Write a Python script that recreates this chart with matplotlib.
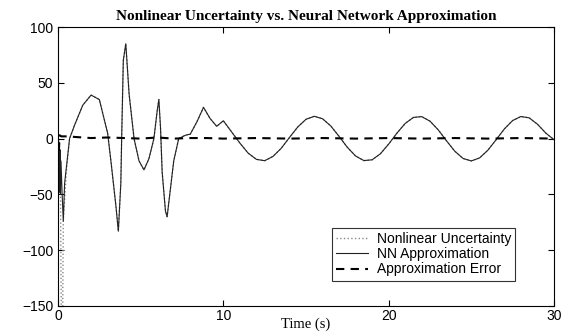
import numpy as np
import matplotlib
matplotlib.use('Agg')
import matplotlib.pyplot as plt

# nonlinear uncertainty (time in s)
t_unc = [0.0, 0.05, 0.1, 0.15, 0.2, 0.28, 0.32, 0.5, 0.7, 1.0, 1.5, 2.0, 2.5, 3.0,
         3.2, 3.5, 3.65, 3.8, 3.85, 3.95, 4.1, 4.3, 4.6, 4.9, 5.2, 5.5, 5.8, 6.0,
         6.1, 6.2, 6.3, 6.5, 6.6, 6.8, 7.0, 7.3, 7.7, 8.0, 8.4, 8.8, 9.2, 9.6,
         10.0, 10.5, 11.0, 11.5, 12.0, 12.5, 13.0, 13.5, 14.0, 14.5, 15.0, 15.5,
         16.0, 16.5, 17.0, 17.5, 18.0, 18.5, 19.0, 19.5, 20.0, 20.5, 21.0, 21.5,
         22.0, 22.5, 23.0, 23.5, 24.0, 24.5, 25.0, 25.5, 26.0, 26.5, 27.0, 27.5,
         28.0, 28.5, 29.0, 29.5, 30.0]
y_unc = [0, -45, -10, -50, -160, -160, -74, -30, 0, 12, 30, 39, 35, 5,
         -20, -60, -83, -40, 0, 70, 85, 40, 0, -20, -28, -18, 0, 25,
         35, 10, -30, -65, -70, -45, -20, 0, 3, 4, 15, 28, 18, 11,
         16, 6, -4, -13, -18.6, -19.8, -16, -8.7, 1, 10.4, 17.3, 20,
         17.8, 11.3, 2, -7.8, -15.6, -19.7, -19, -13.6, -4.9, 4.9, 13.6, 19,
         19.7, 15.6, 7.8, -2, -11.3, -17.8, -20, -17.3, -10.4, -1, 8.7, 16.2,
         19.8, 18.6, 12.9, 5, -1]

# NN approximation: differs from the uncertainty only in the first second
t_nn_start = [0.0, 0.03, 0.06, 0.09, 0.12, 0.15, 0.18, 0.25, 0.32, 0.4, 0.55]
y_nn_start = [0, -45, -5, -48, -10, -50, -20, -50, -74, -40, -20]

# approximation error
t_err = [0.0, 0.05, 0.1, 0.2, 0.4, 0.7, 1, 2, 3, 4, 5, 6, 7, 8, 9, 10, 12, 14,
         16, 18, 20, 22, 24, 26, 28, 30]
y_err = [0, -12, 3, 2, 2, 2, 1.5, 0.5, 1, 0.5, 0, 1, 0, 0.5, 0.5, 0, 0.5, 0,
         0.5, 0, 0.5, 0, 0.5, 0, 0.5, 0]

t_nn = t_nn_start + t_unc[8:]
y_nn = y_nn_start + y_unc[8:]

fig = plt.figure(figsize=(5.76, 3.36), dpi=100)
ax = fig.add_axes([0.1007, 0.0893, 0.8611, 0.8303])

ax.plot(t_unc, y_unc, ':', color='#888888', lw=1.0, label='Nonlinear Uncertainty')
ax.plot(t_nn, y_nn, '-', color='#222222', lw=0.8, label='NN Approximation')
ax.plot(t_err, y_err, '--', color='black', lw=1.5, dashes=(4, 3),
        label='Approximation Error')

ax.set_xlim(0, 30)
ax.set_ylim(-150, 100)
ax.set_xticks([0, 10, 20, 30])
ax.set_yticks([-150, -100, -50, 0, 50, 100])
ax.tick_params(direction='in', top=True, right=True, labelsize=10, length=4)
ax.tick_params(axis='x', pad=2)
for lab in ax.get_xticklabels() + ax.get_yticklabels():
    lab.set_family('Liberation Sans')

ax.set_title('Nonlinear Uncertainty vs. Neural Network Approximation',
             fontsize=11, fontweight='bold', family='Liberation Serif', pad=5)
ax.set_xlabel('Time (s)', fontsize=10.5, family='Liberation Serif', labelpad=-4)

leg = ax.legend(loc='lower right', bbox_to_anchor=(0.9355, 0.066),
                frameon=True, fancybox=False, edgecolor='black',
                handlelength=2.3, borderpad=0.3, labelspacing=0.1,
                handletextpad=0.6,
                prop={'family': 'Liberation Sans', 'size': 10})
leg.get_frame().set_linewidth(0.8)

fig.savefig('out.png', dpi=100)
